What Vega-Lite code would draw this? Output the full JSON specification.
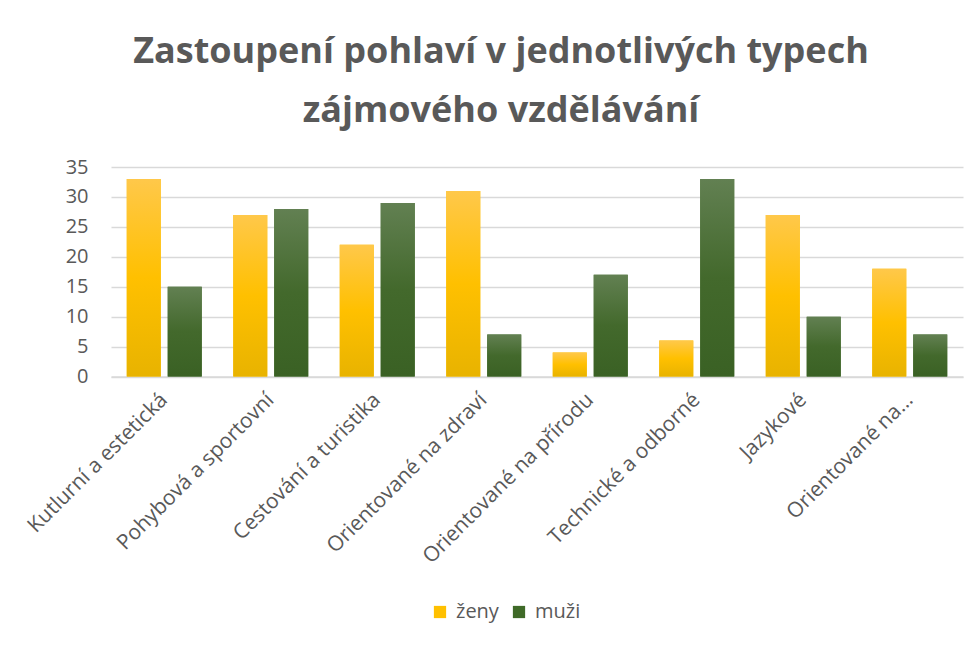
{
  "$schema": "https://vega.github.io/schema/vega-lite/v6.json",
  "width": 852,
  "height": 209.5,
  "autosize": {"type": "none"},
  "padding": {"left": 111, "top": 167, "right": 16, "bottom": 270},
  "background": "#ffffff",
  "title": {
    "text": ["Zastoupení pohlaví v jednotlivých typech", "zájmového vzdělávání"],
    "anchor": "middle",
    "frame": "group",
    "dx": -36,
    "offset": 27,
    "fontSize": 36,
    "lineHeight": 59,
    "font": "Open Sans",
    "fontWeight": "bold",
    "color": "#595959"
  },
  "data": {
    "values": [
      {"typ": "Kutlurní a estetická", "pohlavi": "ženy", "pocet": 33},
      {"typ": "Kutlurní a estetická", "pohlavi": "muži", "pocet": 15},
      {"typ": "Pohybová a sportovní", "pohlavi": "ženy", "pocet": 27},
      {"typ": "Pohybová a sportovní", "pohlavi": "muži", "pocet": 28},
      {"typ": "Cestování a turistika", "pohlavi": "ženy", "pocet": 22},
      {"typ": "Cestování a turistika", "pohlavi": "muži", "pocet": 29},
      {"typ": "Orientované na zdraví", "pohlavi": "ženy", "pocet": 31},
      {"typ": "Orientované na zdraví", "pohlavi": "muži", "pocet": 7},
      {"typ": "Orientované na přírodu", "pohlavi": "ženy", "pocet": 4},
      {"typ": "Orientované na přírodu", "pohlavi": "muži", "pocet": 17},
      {"typ": "Technické a odborné", "pohlavi": "ženy", "pocet": 6},
      {"typ": "Technické a odborné", "pohlavi": "muži", "pocet": 33},
      {"typ": "Jazykové", "pohlavi": "ženy", "pocet": 27},
      {"typ": "Jazykové", "pohlavi": "muži", "pocet": 10},
      {"typ": "Orientované na…", "pohlavi": "ženy", "pocet": 18},
      {"typ": "Orientované na…", "pohlavi": "muži", "pocet": 7}
    ]
  },
  "encoding": {
    "x": {
      "field": "typ",
      "type": "nominal",
      "sort": null,
      "title": null,
      "scale": {"paddingInner": 0.296, "paddingOuter": 0.148},
      "axis": {
        "labelAngle": -45,
        "labelAlign": "right",
        "labelBaseline": "middle",
        "labelFontSize": 21,
        "labelFont": "Open Sans",
        "labelColor": "#595959",
        "labelPadding": 20,
        "ticks": false,
        "domainColor": "#D9D9D9",
        "domainWidth": 1.5,
        "labelLimit": 400
      }
    },
    "xOffset": {
      "field": "pohlavi",
      "type": "nominal",
      "sort": ["ženy", "muži"],
      "scale": {"paddingInner": 0.17, "paddingOuter": 0}
    },
    "y": {
      "field": "pocet",
      "type": "quantitative",
      "title": null,
      "scale": {"domain": [0, 35], "nice": false},
      "axis": {
        "values": [0, 5, 10, 15, 20, 25, 30, 35],
        "labelFontSize": 20,
        "labelFont": "Open Sans",
        "labelColor": "#595959",
        "labelPadding": 23,
        "ticks": false,
        "domain": false,
        "gridColor": "#D9D9D9",
        "gridWidth": 1.5
      }
    }
  },
  "layer": [
    {
      "mark": {"type": "bar"},
      "encoding": {
        "color": {
          "field": "pohlavi",
          "type": "nominal",
          "sort": ["ženy", "muži"],
          "scale": {"domain": ["ženy", "muži"], "range": ["#FFC000", "#3F6A28"]},
          "legend": {
            "title": null,
            "orient": "none",
            "direction": "horizontal",
            "legendX": 319,
            "legendY": 435,
            "padding": 0,
            "symbolType": "square",
            "symbolSize": 150,
            "symbolStrokeWidth": 0,
            "labelFontSize": 20,
            "labelFont": "Open Sans",
            "labelColor": "#595959",
            "labelOffset": 6,
            "columnPadding": 10
          }
        }
      }
    },
    {
      "mark": {"type": "bar"},
      "encoding": {
        "color": {
          "condition": {
            "test": "datum.pohlavi === 'ženy'",
            "value": {
              "gradient": "linear",
              "x1": 0, "y1": 0, "x2": 0, "y2": 1,
              "stops": [
                {"offset": 0, "color": "#FFC84A"},
                {"offset": 0.5, "color": "#FFC000"},
                {"offset": 1, "color": "#E8B300"}
              ]
            }
          },
          "value": {
            "gradient": "linear",
            "x1": 0, "y1": 0, "x2": 0, "y2": 1,
            "stops": [
              {"offset": 0, "color": "#628052"},
              {"offset": 0.5, "color": "#43692C"},
              {"offset": 1, "color": "#3A6124"}
            ]
          }
        }
      }
    }
  ],
  "config": {"view": {"stroke": null}}
}
